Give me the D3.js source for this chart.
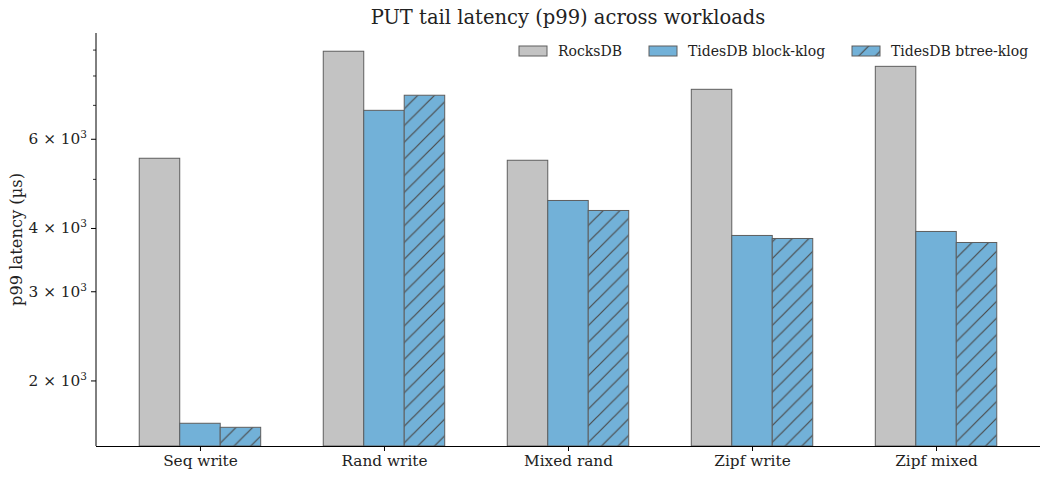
<!DOCTYPE html>
<html>
<head>
<meta charset="utf-8">
<script src="https://cdn.jsdelivr.net/npm/d3@7"></script>
<style>
  body { margin: 0; background: #fff; }
  svg text { font-family: "DejaVu Serif", serif; fill: #222; }
</style>
</head>
<body>
<div id="chart"></div>
<script>
// data
var workloads = ["Seq write", "Rand write", "Mixed rand", "Zipf write", "Zipf mixed"];
var seriesNames = ["RocksDB", "TidesDB block-klog", "TidesDB btree-klog"];
var rocksdb = [5504, 8953, 5454, 7530, 8359];
var blockKlog = [1650, 6844, 4543, 3875, 3946];
var btreeKlog = [1620, 7330, 4341, 3822, 3753];
var majorTicks = [2000, 3000, 4000, 6000];
var minorTicks = [5000, 7000, 8000, 9000];

var series = [rocksdb, blockKlog, btreeKlog];
var fills = ["#c3c3c3", "#72b1d8", "#72b1d8"];

var W = 1050, H = 480;
var margin = {top: 33, right: 10, bottom: 34, left: 96};
var width = W - margin.left - margin.right,
    height = H - margin.top - margin.bottom;

var svg = d3.select("#chart").append("svg")
    .attr("width", W)
    .attr("height", H);

var defs = svg.append("defs");
var pat = defs.append("pattern")
    .attr("id", "hatch")
    .attr("patternUnits", "userSpaceOnUse")
    .attr("width", 16.7)
    .attr("height", 16.7);
pat.append("rect").attr("width", 16.7).attr("height", 16.7).attr("fill", "#72b1d8");
pat.append("path")
    .attr("d", "M-4,20.7 L20.7,-4 M-4,4 L4,-4 M12.7,20.7 L20.7,12.7")
    .attr("stroke", "#4a4a4a")
    .attr("stroke-width", 1.2);

var g = svg.append("g")
    .attr("transform", "translate(" + margin.left + "," + margin.top + ")");

// x: category index, matplotlib-ish margins
var bw = 0.22;
var x = d3.scaleLinear().domain([-0.565, 4.565]).range([0, width]);
var y = d3.scaleLog().domain([1488, 9727]).range([height, 0]);

series.forEach(function(vals, s){
    g.append("g").selectAll("rect")
        .data(vals)
        .enter().append("rect")
        .attr("x", function(d, i){ return x(i + (s - 1) * bw - bw / 2); })
        .attr("width", x(bw) - x(0))
        .attr("y", function(d){ return y(d); })
        .attr("height", function(d){ return height - y(d); })
        .attr("fill", s == 2 ? "url(#hatch)" : fills[s])
        .attr("stroke", "#5e5e5e")
        .attr("stroke-width", 1);
});

// x axis
var xAxis = d3.axisBottom(x)
    .tickValues(d3.range(workloads.length))
    .tickFormat(function(d){ return workloads[d]; })
    .tickSize(5).tickPadding(4);
var xg = g.append("g").attr("transform", "translate(0," + height + ")").call(xAxis);
xg.selectAll("text").style("font-size", "15.3px").attr("fill", "#222");
xg.select(".domain").attr("stroke", "#000").attr("d", "M0,0.5H" + width);

// y axis
var yg = g.append("g");
yg.append("line").attr("x1", 0).attr("x2", 0).attr("y1", 0).attr("y2", height)
    .attr("stroke", "#000");
majorTicks.forEach(function(t){
    yg.append("line").attr("x1", -5).attr("x2", 0).attr("y1", y(t)).attr("y2", y(t))
        .attr("stroke", "#000");
    var tx = yg.append("text")
        .attr("x", -9).attr("y", y(t) + 5)
        .attr("text-anchor", "end")
        .style("font-size", "15.3px");
    tx.append("tspan").text((t / 1000) + " \u00d7 10");
    tx.append("tspan").attr("dy", -6).style("font-size", "10.5px").text("3");
});
minorTicks.forEach(function(t){
    yg.append("line").attr("x1", -3).attr("x2", 0).attr("y1", y(t)).attr("y2", y(t))
        .attr("stroke", "#000").attr("stroke-width", 0.8);
});

// labels
svg.append("text")
    .attr("x", margin.left + width / 2 + 0).attr("y", 24)
    .attr("text-anchor", "middle")
    .style("font-size", "19.5px")
    .text("PUT tail latency (p99) across workloads");

svg.append("text")
    .attr("transform", "translate(22," + (margin.top + height / 2) + ") rotate(-90)")
    .attr("text-anchor", "middle")
    .style("font-size", "16.3px")
    .text("p99 latency (\u00b5s)");

// legend
var legX = [519, 649, 852];
seriesNames.forEach(function(n, s){
    var lg = svg.append("g").attr("transform", "translate(" + legX[s] + ",46)");
    lg.append("rect").attr("width", 28).attr("height", 10)
        .attr("fill", s == 2 ? "url(#hatch)" : fills[s])
        .attr("stroke", "#5e5e5e");
    lg.append("text").attr("x", 39).attr("y", 10)
        .style("font-size", "14px").text(n);
});
</script>
</body>
</html>
